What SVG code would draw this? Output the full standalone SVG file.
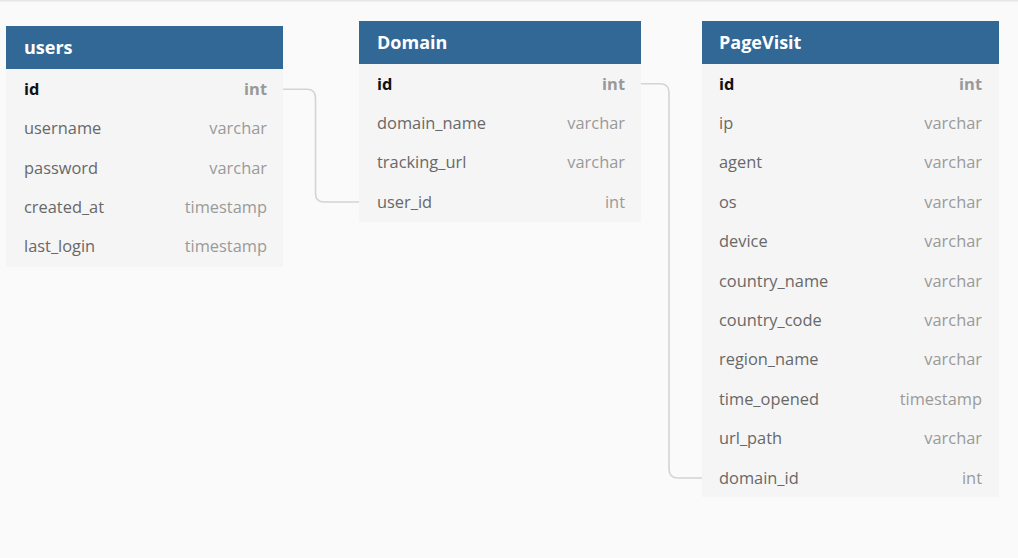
<svg xmlns="http://www.w3.org/2000/svg" width="1018" height="558" viewBox="0 0 1018 558">
<style>
.hdr{fill:#316896}
.body{fill:#f5f5f5}
.title{font-family:"Open Sans",sans-serif;font-size:18px;font-weight:700;fill:#ffffff}
.n{font-family:"Open Sans",sans-serif;font-size:16.4px;fill:#686868}
.t{font-family:"Open Sans",sans-serif;font-size:16.4px;fill:#9a9a9a;text-anchor:end}
.pk{font-weight:700;fill:#111111}
.pkt{font-weight:700;fill:#999999}
.conn{fill:none;stroke:#d4d4d4;stroke-width:1.6}
</style>
<rect x="0" y="0" width="1018" height="558" fill="#fafafa"/>
<rect x="0" y="0" width="1018" height="1.5" fill="#e6e6e6"/>
<g id="connectors">
<path class="conn" d="M283,89.3 H307 Q315.5,89.3 315.5,98 V193.5 Q315.5,202 324,202 H359"/>
<path class="conn" d="M641,83.8 H660 Q669,83.8 669,92.5 V469 Q669,478 678,478 H702"/>
</g>
<g id="users">
<rect class="body" x="6" y="69" width="277" height="198"/>
<rect class="hdr" x="6" y="26" width="277" height="43"/>
<text class="title" x="24" y="54">users</text>
<text class="n pk" x="24" y="94.8">id</text><text class="t pkt" x="267" y="94.8">int</text>
<text class="n" x="24" y="134.2">username</text><text class="t" x="267" y="134.2">varchar</text>
<text class="n" x="24" y="173.6">password</text><text class="t" x="267" y="173.6">varchar</text>
<text class="n" x="24" y="213">created_at</text><text class="t" x="267" y="213">timestamp</text>
<text class="n" x="24" y="252.4">last_login</text><text class="t" x="267" y="252.4">timestamp</text>
</g>
<g id="Domain">
<rect class="body" x="359" y="64" width="282" height="158"/>
<rect class="hdr" x="359" y="21" width="282" height="43"/>
<text class="title" x="377" y="49">Domain</text>
<text class="n pk" x="377" y="89.6">id</text><text class="t pkt" x="625" y="89.6">int</text>
<text class="n" x="377" y="129">domain_name</text><text class="t" x="625" y="129">varchar</text>
<text class="n" x="377" y="168.4">tracking_url</text><text class="t" x="625" y="168.4">varchar</text>
<text class="n" x="377" y="207.8">user_id</text><text class="t" x="625" y="207.8">int</text>
</g>
<g id="PageVisit">
<rect class="body" x="702" y="64" width="297" height="433"/>
<rect class="hdr" x="702" y="21" width="297" height="43"/>
<text class="title" x="719" y="49">PageVisit</text>
<text class="n pk" x="719" y="89.6">id</text><text class="t pkt" x="982" y="89.6">int</text>
<text class="n" x="719" y="129">ip</text><text class="t" x="982" y="129">varchar</text>
<text class="n" x="719" y="168.4">agent</text><text class="t" x="982" y="168.4">varchar</text>
<text class="n" x="719" y="207.8">os</text><text class="t" x="982" y="207.8">varchar</text>
<text class="n" x="719" y="247.2">device</text><text class="t" x="982" y="247.2">varchar</text>
<text class="n" x="719" y="286.6">country_name</text><text class="t" x="982" y="286.6">varchar</text>
<text class="n" x="719" y="326">country_code</text><text class="t" x="982" y="326">varchar</text>
<text class="n" x="719" y="365.4">region_name</text><text class="t" x="982" y="365.4">varchar</text>
<text class="n" x="719" y="404.8">time_opened</text><text class="t" x="982" y="404.8">timestamp</text>
<text class="n" x="719" y="444.2">url_path</text><text class="t" x="982" y="444.2">varchar</text>
<text class="n" x="719" y="483.6">domain_id</text><text class="t" x="982" y="483.6">int</text>
</g>
</svg>
